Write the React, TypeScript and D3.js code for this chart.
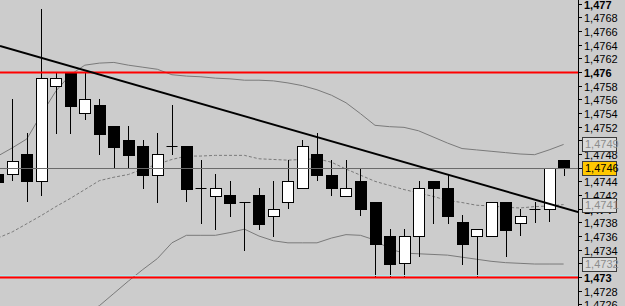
import React from "react";
import * as d3 from "d3";

// ---- data ----
const candleOpen = [
  1.47451, 1.47451, 1.4748, 1.4744, 1.4758, 1.476, 1.4754, 1.47552, 1.47521, 1.475,
  1.47491, 1.4745, 1.47491, 1.47491, 1.4743, 1.47419, 1.4742, 1.4741, 1.4742, 1.47389,
  1.4741, 1.4743, 1.4748, 1.4745, 1.47419, 1.4744, 1.4741, 1.4736, 1.4732, 1.4736,
  1.4744, 1.4743, 1.4738, 1.4736, 1.4736, 1.4741, 1.47379, 1.474, 1.474, 1.47471,
];
const candleHigh = [
  1.4746, 1.4756, 1.47511, 1.47692, 1.476, 1.476, 1.476, 1.4756, 1.47521, 1.47521,
  1.475, 1.47511, 1.47552, 1.47491, 1.47471, 1.47451, 1.4744, 1.4741, 1.4743, 1.4744,
  1.47471, 1.475, 1.47511, 1.47471, 1.47471, 1.47459, 1.4741, 1.4737, 1.4737, 1.4744,
  1.4744, 1.47449, 1.47391, 1.4737, 1.4741, 1.4741, 1.474, 1.4741, 1.4746, 1.47471,
];
const candleLow = [
  1.4743, 1.4744, 1.4741, 1.47419, 1.47509, 1.47509, 1.4753, 1.47479, 1.4746, 1.4746,
  1.47429, 1.47409, 1.47479, 1.4741, 1.47378, 1.47369, 1.47388, 1.47338, 1.47369, 1.47359,
  1.474, 1.4743, 1.4744, 1.47419, 1.47419, 1.47389, 1.473, 1.473, 1.473, 1.47329,
  1.47378, 1.47378, 1.47318, 1.473, 1.4736, 1.4733, 1.4736, 1.47379, 1.4738, 1.47448,
];
const candleClose = [
  1.47439, 1.4747, 1.4744, 1.47591, 1.47591, 1.4755, 1.4756, 1.47509, 1.4749, 1.47479,
  1.4745, 1.4748, 1.47491, 1.47429, 1.4743, 1.4743, 1.47409, 1.4741, 1.47378, 1.474,
  1.4744, 1.47491, 1.47449, 1.4743, 1.4743, 1.474, 1.47348, 1.47319, 1.4736, 1.4743,
  1.4743, 1.4739, 1.47348, 1.4737, 1.4741, 1.47369, 1.4739, 1.474, 1.4746, 1.4746,
];
const bandUpper = [
  1.47477, 1.47489, 1.47502, 1.47538, 1.47572, 1.47596, 1.4761, 1.47613, 1.47614, 1.4761,
  1.47607, 1.47604, 1.47596, 1.47594, 1.47593, 1.47591, 1.4759, 1.47588, 1.47588, 1.47587,
  1.47584, 1.4758, 1.47574, 1.47566, 1.47555, 1.47539, 1.47522, 1.4752, 1.47519, 1.47514,
  1.47505, 1.47496, 1.47488, 1.47486, 1.47484, 1.47482, 1.4748, 1.47479, 1.47486, 1.47494,
];
const bandMiddle = [
  1.47357, 1.47366, 1.47378, 1.4739, 1.47403, 1.47415, 1.47428, 1.47441, 1.47446, 1.4745,
  1.47458, 1.47465, 1.47472, 1.47477, 1.47477, 1.47478, 1.47478, 1.47478, 1.47473, 1.47472,
  1.47471, 1.47472, 1.47473, 1.47468, 1.47458, 1.47449, 1.4744, 1.47434, 1.47428, 1.47423,
  1.47418, 1.47412, 1.47409, 1.47405, 1.47404, 1.47402, 1.47401, 1.47403, 1.47404, 1.47406,
];
const bandLower = [
  1.47237, 1.47243, 1.47255, 1.47242, 1.47234, 1.47234, 1.47246, 1.47258, 1.47276, 1.47294,
  1.47311, 1.47327, 1.4735, 1.47361, 1.47361, 1.47361, 1.47365, 1.4737, 1.4736, 1.47353,
  1.4735, 1.4735, 1.4735, 1.47357, 1.47362, 1.47361, 1.47354, 1.47341, 1.47335, 1.47334,
  1.47333, 1.47332, 1.47329, 1.47326, 1.47323, 1.47321, 1.4732, 1.47319, 1.47319, 1.47319,
];
const priceTicks = [
  1.4726, 1.4728, 1.473, 1.4732, 1.4734, 1.4736, 1.4738, 1.474, 1.4742, 1.4744,
  1.4746, 1.4748, 1.475, 1.4752, 1.4754, 1.4756, 1.4758, 1.476, 1.4762, 1.4764,
  1.4766, 1.4768, 1.477,
];
const redLevels = [1.476, 1.473];
const trendIndex = [0.15, 40];
const trendPrice = [1.47638, 1.47395];

// ---- layout ----
const W = 625;
const H = 306;
const AXIS_X = 578;
const BG = "#cccccc";

export default function App() {
  const n = candleOpen.length;
  const x = d3.scaleLinear().domain([0, n - 1]).range([-2.2, 563.6]);
  const y = d3.scaleLinear().domain([1.473, 1.476]).range([277, 72]);
  const bodyW = 11;
  const lastClose = candleClose[n - 1];

  const bandLine = (vals: number[]) =>
    d3
      .line<number>()
      .x((_, i) => x(i))
      .y((v) => y(v))(vals) || "";

  const fmtTick = (v: number) => {
    let s = v.toFixed(4);
    s = s.replace(/0+$/, "");
    return s.replace(".", ",");
  };
  const isBold = (v: number) => v.toFixed(4).endsWith("0");
  const fmt4 = (v: number) => v.toFixed(4).replace(".", ",");

  const candles = d3.range(n).map((i) => {
    const o = candleOpen[i];
    const c = candleClose[i];
    const cx = Math.round(x(i)) + 0.5;
    const yo = Math.round(y(o));
    const yc = Math.round(y(c));
    const top = Math.min(yo, yc);
    const bot = Math.max(yo, yc);
    const left = Math.round(x(i) - bodyW / 2) + 0.5;
    const bull = c > o;
    return (
      <g key={i}>
        <line x1={cx} x2={cx} y1={Math.round(y(candleHigh[i]))} y2={Math.round(y(candleLow[i]))} stroke="#000" strokeWidth={1} />
        {bot - top < 1 ? (
          <line x1={left} x2={left + bodyW} y1={top + 0.5} y2={top + 0.5} stroke="#000" strokeWidth={1} />
        ) : (
          <rect x={left} y={top + 0.5} width={bodyW} height={bot - top} fill={bull ? "#ffffff" : "#000000"} stroke="#000" strokeWidth={1} />
        )}
      </g>
    );
  });

  const bandLabels = [
    { v: bandUpper[n - 1] },
    { v: bandMiddle[n - 1] },
    { v: bandLower[n - 1] },
  ];

  const fontFamily = "'Liberation Sans', Arial, sans-serif";

  return (
    <div style={{ position: "absolute", left: 0, top: 0 }}>
      <svg width={W} height={H} style={{ display: "block", background: BG }}>
        <defs>
          <clipPath id="plot">
            <rect x={0} y={0} width={AXIS_X} height={H} />
          </clipPath>
        </defs>
        <rect x={0} y={0} width={W} height={H} fill={BG} />
        <g clipPath="url(#plot)">
          <path d={bandLine(bandUpper)} fill="none" stroke="#7a7a7a" strokeWidth={1} />
          <path d={bandLine(bandLower)} fill="none" stroke="#7a7a7a" strokeWidth={1} />
          <path d={bandLine(bandMiddle)} fill="none" stroke="#7a7a7a" strokeWidth={1} strokeDasharray="3,2" />
          {candles}
          <line x1={0} x2={AXIS_X} y1={Math.round(y(lastClose)) + 0.5} y2={Math.round(y(lastClose)) + 0.5} stroke="#6a6a6a" strokeWidth={1} />
          <line x1={0} x2={AXIS_X} y1={Math.round(y(redLevels[1])) - 1.5} y2={Math.round(y(redLevels[1])) - 1.5} stroke="#a8e8ec" strokeWidth={1} />
          {redLevels.map((v) => (
            <line key={v} x1={0} x2={AXIS_X} y1={Math.round(y(v)) + 0.5} y2={Math.round(y(v)) + 0.5} stroke="#ff0000" strokeWidth={2} />
          ))}
          <line
            x1={x(trendIndex[0])}
            y1={y(trendPrice[0])}
            x2={x(trendIndex[1])}
            y2={y(trendPrice[1])}
            stroke="#000"
            strokeWidth={2}
          />
        </g>
        {/* price axis */}
        <line x1={AXIS_X + 0.5} x2={AXIS_X + 0.5} y1={0} y2={H} stroke="#000" strokeWidth={1} />
        {priceTicks.map((v) => {
          const ty = Math.round(y(v)) + 0.5;
          return (
            <g key={v}>
              <line x1={AXIS_X} x2={AXIS_X + 4} y1={ty} y2={ty} stroke="#000" strokeWidth={1} />
              <text
                x={AXIS_X + 6}
                y={ty + 4}
                fontFamily={fontFamily}
                fontSize={11}
                fontWeight={isBold(v) ? "bold" : "normal"}
                fill="#000"
              >
                {fmtTick(v)}
              </text>
            </g>
          );
        })}
        {bandLabels.map((b, i) => {
          const cy = y(b.v);
          return (
            <g key={i}>
              <rect x={582.5} y={Math.round(cy - 7) + 0.5} width={34} height={14} fill="#dadada" stroke="#3c3c3c" strokeWidth={1} />
              <text x={585} y={Math.round(cy) + 4} fontFamily={fontFamily} fontSize={11} fill="#8c8c8c">
                {fmt4(b.v)}
              </text>
            </g>
          );
        })}
        <g>
          <rect x={582.5} y={Math.round(y(lastClose) - 7) + 0.5} width={34} height={14} fill="#ffc800" stroke="#3c3c3c" strokeWidth={1} />
          <text x={585} y={Math.round(y(lastClose)) + 4} fontFamily={fontFamily} fontSize={11} fill="#000">
            {fmt4(lastClose)}
          </text>
        </g>
      </svg>
    </div>
  );
}
